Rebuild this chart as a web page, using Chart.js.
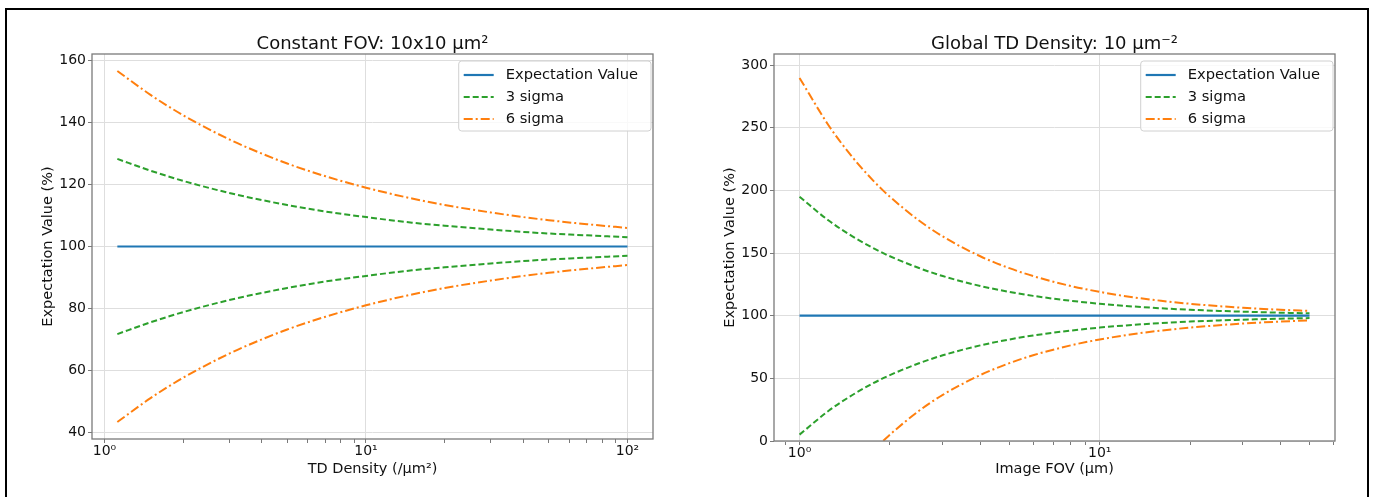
<!DOCTYPE html>
<html>
<head>
<meta charset="utf-8">
<script src="https://cdn.jsdelivr.net/npm/chart.js@4.4.0/dist/chart.umd.min.js"></script>
<style>
    html, body { margin: 0; padding: 0; background: #fff; }
    body { width: 1375px; height: 497px; position: relative; overflow: hidden; }
    .frame { position: absolute; left: 5px; top: 8px; width: 1364px; height: 600px; border: 2px solid #000; box-sizing: border-box; }
    #leftChart { position: absolute; left: 0; top: 0; }
    #rightChart { position: absolute; left: 690px; top: 0; }
</style>
</head>
<body>
<div class="frame"></div>
<canvas id="leftChart" width="690" height="497"></canvas>
<canvas id="rightChart" width="685" height="497"></canvas>
<script>
// Left panel: constant FOV, x = TD density (/um^2)
const leftX = [1.12, 1.5, 2, 3, 4, 5, 7, 10, 15, 20, 30, 40, 50, 70, 100];
const leftExp = [100, 100, 100, 100, 100, 100, 100, 100, 100, 100, 100, 100, 100, 100, 100];
const left3Hi = [128.3, 124.5, 121.2, 117.3, 115.0, 113.4, 111.3, 109.5, 107.7, 106.7, 105.5, 104.7, 104.2, 103.6, 103.0];
const left3Lo = [71.7, 75.5, 78.8, 82.7, 85.0, 86.6, 88.7, 90.5, 92.3, 93.3, 94.5, 95.3, 95.8, 96.4, 97.0];
const left6Hi = [156.7, 149.0, 142.4, 134.6, 130.0, 126.8, 122.7, 119.0, 115.5, 113.4, 111.0, 109.5, 108.5, 107.2, 106.0];
const left6Lo = [43.3, 51.0, 57.6, 65.4, 70.0, 73.2, 77.3, 81.0, 84.5, 86.6, 89.0, 90.5, 91.5, 92.8, 94.0];

// Right panel: global TD density 10 /um^2, x = image FOV (um)
const rightX = [1, 1.25, 1.5, 1.75, 1.9, 2, 2.5, 3, 4, 5, 6, 8, 10, 13, 16, 20, 25, 30, 40, 50];
const rightExp = [100, 100, 100, 100, 100, 100, 100, 100, 100, 100, 100, 100, 100, 100, 100, 100, 100, 100, 100, 100];
const right3Hi = [194.9, 175.9, 163.3, 154.2, 149.9, 147.4, 138.0, 131.6, 123.7, 119.0, 115.8, 111.9, 109.5, 107.3, 105.9, 104.7, 103.8, 103.2, 102.4, 101.9];
const right3Lo = [5.1, 24.1, 36.7, 45.8, 50.1, 52.6, 62.0, 68.4, 76.3, 81.0, 84.2, 88.1, 90.5, 92.7, 94.1, 95.3, 96.2, 96.8, 97.6, 98.1];
const right6Hi = [289.7, 251.8, 226.5, 208.4, 199.8, 194.9, 175.9, 163.2, 147.4, 137.9, 131.6, 123.7, 119.0, 114.6, 111.9, 109.5, 107.6, 106.3, 104.7, 103.8];
const right6Lo = [null, null, null, null, 0.2, 5.1, 24.1, 36.8, 52.6, 62.1, 68.4, 76.3, 81.0, 85.4, 88.1, 90.5, 92.4, 93.7, 95.3, 96.2];

// Tick values / labels
const leftXTicks = [1, 2, 3, 4, 5, 6, 7, 8, 9, 10, 20, 30, 40, 50, 60, 70, 80, 90, 100];
const rightXTicks = [0.9, 1, 2, 3, 4, 5, 6, 7, 8, 9, 10, 20, 30, 40, 50, 60];
const decadeVals = [1, 10, 100];
const decadeLabels = ['10\u2070', '10\u00B9', '10\u00B2'];
const leftYTicks = [40, 60, 80, 100, 120, 140, 160];
const rightYTicks = [0, 50, 100, 150, 200, 250, 300];

const FONT = "'DejaVu Sans', sans-serif";
const BLUE = '#1f77b4', GREEN = '#2ca02c', ORANGE = '#ff7f0e';
const SPINE = '#7a7a7a', GRID = '#dedede', TEXT = '#111';

function toPoints(xs, ys) {
    return xs.map((x, i) => ({ x: x, y: ys[i] }));
}

function lineSets(xs, exp, s3hi, s3lo, s6hi, s6lo) {
    const solid = { label: 'Expectation Value', borderColor: BLUE, borderWidth: 2.2, borderDash: [] };
    const dash = { label: '3 sigma', borderColor: GREEN, borderWidth: 2, borderDash: [6, 3] };
    const dashDot = { label: '6 sigma', borderColor: ORANGE, borderWidth: 2, borderDash: [9, 3, 2, 3] };
    return [
        { ...solid, data: toPoints(xs, exp) },
        { ...dash, data: toPoints(xs, s3hi) },
        { ...dash, data: toPoints(xs, s3lo) },
        { ...dashDot, data: toPoints(xs, s6hi) },
        { ...dashDot, data: toPoints(xs, s6lo) }
    ];
}

// matplotlib-like frame, title and legend
const mplFrame = {
    id: 'mplFrame',
    afterDraw(chart, args, opts) {
        const { ctx, chartArea: a } = chart;
        ctx.save();
        ctx.strokeStyle = SPINE;
        ctx.lineWidth = 1.3;
        ctx.strokeRect(a.left, a.top, a.right - a.left, a.bottom - a.top);

        ctx.fillStyle = TEXT;
        ctx.font = '18px ' + FONT;
        ctx.textAlign = 'center';
        ctx.textBaseline = 'middle';
        ctx.fillText(opts.title, (a.left + a.right) / 2, a.top - 10);

        // legend, one entry per label
        const items = [];
        chart.data.datasets.forEach(ds => {
            if (!items.find(it => it.label === ds.label)) items.push(ds);
        });
        ctx.font = '14.7px ' + FONT;
        const textW = Math.max(...items.map(it => ctx.measureText(it.label).width));
        const boxW = 47 + textW + 13, boxH = 70;
        const bx = a.right - 2 - boxW, by = a.top + 7;
        ctx.beginPath();
        ctx.roundRect(bx, by, boxW, boxH, 3);
        ctx.fillStyle = 'rgba(255,255,255,0.8)';
        ctx.fill();
        ctx.strokeStyle = '#d0d0d0';
        ctx.lineWidth = 1;
        ctx.stroke();
        ctx.textAlign = 'left';
        items.forEach((it, i) => {
            const y = by + 14 + i * 22;
            ctx.strokeStyle = it.borderColor;
            ctx.lineWidth = it.borderWidth;
            ctx.setLineDash(it.borderDash);
            ctx.beginPath();
            ctx.moveTo(bx + 5, y);
            ctx.lineTo(bx + 35, y);
            ctx.stroke();
            ctx.setLineDash([]);
            ctx.fillStyle = TEXT;
            ctx.fillText(it.label, bx + 47, y);
        });
        ctx.restore();
    }
};

function makeChart(id, cfg) {
    return new Chart(document.getElementById(id), {
        type: 'line',
        data: { datasets: cfg.datasets },
        options: {
            responsive: false,
            animation: false,
            devicePixelRatio: 1,
            layout: { padding: { top: 54, right: cfg.padRight, left: 0, bottom: 0 } },
            elements: {
                point: { radius: 0 },
                line: { cubicInterpolationMode: 'monotone', fill: false }
            },
            plugins: {
                legend: { display: false },
                tooltip: { enabled: false },
                mplFrame: { title: cfg.title }
            },
            scales: {
                x: {
                    type: 'logarithmic',
                    min: cfg.xMin,
                    max: cfg.xMax,
                    border: { display: false },
                    grid: {
                        color: c => (c.tick && decadeVals.includes(c.tick.value)) ? GRID : 'rgba(0,0,0,0)',
                        tickColor: SPINE,
                        tickLength: 4
                    },
                    ticks: {
                        autoSkip: false,
                        maxRotation: 0,
                        padding: 0,
                        color: TEXT,
                        font: { family: FONT, size: 14 },
                        callback: v => {
                            const k = decadeVals.indexOf(v);
                            return k >= 0 ? decadeLabels[k] : '';
                        }
                    },
                    title: {
                        display: true,
                        text: cfg.xTitle,
                        color: TEXT,
                        font: { family: FONT, size: 14.5 },
                        padding: { top: 0, bottom: 19.5 }
                    },
                    afterBuildTicks: s => { s.ticks = cfg.xTicks.map(v => ({ value: v })); },
                    afterFit: s => { s.height = cfg.xAxisH; }
                },
                y: {
                    type: 'linear',
                    min: cfg.yMin,
                    max: cfg.yMax,
                    border: { display: false },
                    grid: { color: GRID, tickColor: SPINE, tickLength: 4 },
                    ticks: {
                        padding: 2,
                        color: TEXT,
                        font: { family: FONT, size: 14 }
                    },
                    title: {
                        display: true,
                        text: 'Expectation Value (%)',
                        color: TEXT,
                        font: { family: FONT, size: 14.5 },
                        padding: { top: cfg.yTitlePad, bottom: 0 }
                    },
                    afterBuildTicks: s => { s.ticks = cfg.yTicks.map(v => ({ value: v })); },
                    afterFit: s => { s.width = cfg.yAxisW; }
                }
            }
        },
        plugins: [mplFrame]
    });
}

makeChart('leftChart', {
    title: 'Constant FOV: 10x10 \u03BCm\u00B2',
    xTitle: 'TD Density (/\u03BCm\u00B2)',
    datasets: lineSets(leftX, leftExp, left3Hi, left3Lo, left6Hi, left6Lo),
    xTicks: leftXTicks, yTicks: leftYTicks,
    xMin: 0.896, xMax: 125.2, yMin: 37.8, yMax: 162.2,
    padRight: 37, yAxisW: 92, xAxisH: 58, yTitlePad: 39.8
});

makeChart('rightChart', {
    title: 'Global TD Density: 10 \u03BCm\u207B\u00B2',
    xTitle: 'Image FOV (\u03BCm)',
    datasets: lineSets(rightX, rightExp, right3Hi, right3Lo, right6Hi, right6Lo),
    xTicks: rightXTicks, yTicks: rightYTicks,
    xMin: 0.822, xMax: 60.8, yMin: 0, yMax: 308.8,
    padRight: 40, yAxisW: 84, xAxisH: 56, yTitlePad: 31.8
});
</script>
</body>
</html>
